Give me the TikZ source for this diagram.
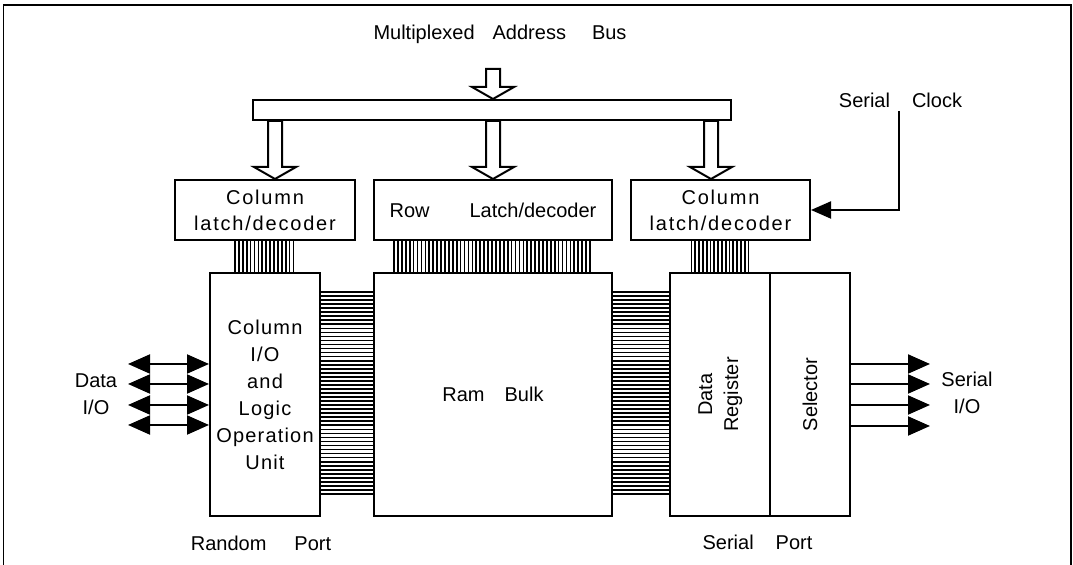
\documentclass[tikz,border=0pt]{standalone}
\usepackage{fontspec}
\setmainfont{Liberation Sans}
\newfontfamily\spacedfont[LetterSpace=9]{Liberation Sans}
\newfontfamily\unitfont[LetterSpace=6]{Liberation Sans}
\usepackage{tikz}
\usetikzlibrary{arrows.meta, positioning, calc}
\tikzset{
  vrblock/.style={rectangle, draw, line width=1pt, inner sep=0pt,
                  align=center, font=\normalsize},
  vrlatch/.style={vrblock, minimum height=30pt,
                  font={\spacedfont\fontsize{10}{13}\selectfont}},
  vrunit/.style={vrblock, minimum height=121.5pt},
  vrbus/.style={vrblock, minimum width=239pt, minimum height=10pt},
  vrfat/.style={draw, line width=1pt, fill=white, line join=miter},
  vrhatch/.style={line width=0.85pt},
  vrdata/.style={{Triangle[length=11pt,width=9.5pt]}-{Triangle[length=11pt,width=9.5pt]}, line width=1pt},
  vrserial/.style={-{Triangle[length=11pt,width=9.5pt]}, line width=1pt},
  vrclock/.style={-{Triangle[length=10pt,width=8.5pt]}, line width=1pt},
  vrlabel/.style={inner sep=0pt, align=center, font=\normalsize},
}
% hollow bus arrow pointing down
\newcommand{\fatdown}[2]{%
  \draw[vrfat] let \p1=(#1), \p2=(#2) in
    (\x1-3.5pt,\y1) -- (\x1-3.5pt,\y2+6pt) -- (\x1-10.5pt,\y2+6pt) -- (\x1,\y2)
    -- (\x1+10.5pt,\y2+6pt) -- (\x1+3.5pt,\y2+6pt) -- (\x1+3.5pt,\y1) -- cycle;}

\begin{document}
\begin{tikzpicture}[x=0.5pt, y=-0.5pt]
  \useasboundingbox (0,0) rectangle (1073,565);
  % Frame
  \draw[line width=0.8pt] (3.5,565) -- (3.5,5) -- (1071,5) -- (1071,565);
  % Address bus
  \node[vrlabel] (mabus) at (500,34) {Multiplexed\hspace{9pt}Address\hspace{13pt}Bus};
  \node[vrbus] (bus) at (492,110) {};
  \coordinate (mabtop) at (493,69);
  \fatdown{mabtop}{mabtop |- bus.north}
  % Latch/decoder blocks
  \node[vrlatch, minimum width=90pt] (colL) at (265,210) {Column\\latch/decoder};
  \node[vrblock, minimum width=119pt, minimum height=30pt] (rowL) at (493,210)
    {\raisebox{-3.5pt}{Row\hspace{20pt}Latch/decoder}};
  \node[vrlatch, minimum width=89.5pt] (colR) at (720.5,210) {Column\\latch/decoder};
  \fatdown{275,0 |- bus.south}{275,0 |- colL.north}
  \fatdown{493,0 |- bus.south}{493,0 |- rowL.north}
  \fatdown{711,0 |- bus.south}{711,0 |- colR.north}
  % Serial clock
  \node[vrlabel] (sclk) at (900.5,100) {Serial\hspace{11pt}Clock};
  \coordinate (clk) at (899,111);
  \draw[vrclock] (clk) |- (colR.east);
  % Units
  \node[vrunit, minimum width=55pt, font={\unitfont\fontsize{10}{13.5}\selectfont}] (colio) at (265,394.5)
    {Column\\I/O\\and\\Logic\\Operation\\Unit};
  \node[vrunit, minimum width=119pt] (ram) at (493,394.5)
    {\raisebox{-2.5pt}{Ram\hspace{10pt}Bulk}};
  \node[vrunit, minimum width=50pt] (datareg) at (720,394.5)
    {\rotatebox{90}{\fontsize{10}{13}\selectfont\begin{tabular}{@{}c@{}}Data\\Register\end{tabular}}};
  \node[vrunit, minimum width=40pt] (selector) at (810,394.5)
    {\rotatebox{90}{Selector}};
  % Hatched lines
  \foreach \k [evaluate=\k as \hx using 235+3.9*\k] in {0,...,15}
    \draw[vrhatch] (\hx,0 |- colL.south) -- (\hx,0 |- colio.north);
  \foreach \k [evaluate=\k as \hx using 394+3.92*\k] in {0,...,50}
    \draw[vrhatch] (\hx,0 |- rowL.south) -- (\hx,0 |- ram.north);
  \foreach \k [evaluate=\k as \hx using 691.5+3.8*\k] in {0,...,15}
    \draw[vrhatch] (\hx,0 |- colR.south) -- (\hx,0 |- datareg.north);
  \foreach \k [evaluate=\k as \hy using 292+4.04*\k] in {0,...,50}{
    \draw[vrhatch] (colio.east |- 0,\hy) -- (ram.west |- 0,\hy);
    \draw[vrhatch] (ram.east |- 0,\hy) -- (datareg.west |- 0,\hy);
  }
  % Data I/O
  \node[vrlabel, font={\fontsize{10}{13.5}\selectfont}] (dio) at (96,394) {Data\\I/O};
  \foreach \k/\yy in {1/364,2/384,3/405,4/425}{
    \coordinate (din\k) at (128,\yy);
    \draw[vrdata] (din\k) -- (din\k -| colio.west);
  }
  % Serial I/O
  \node[vrlabel, font={\fontsize{10}{13.5}\selectfont}] (sio) at (967,393) {Serial\\I/O};
  \foreach \k/\yy in {1/364,2/384,3/405,4/426}{
    \coordinate (sout\k) at (930,\yy);
    \draw[vrserial] (sout\k -| selector.east) -- (sout\k);
  }
  % Ports
  \node[vrlabel] (rport) at (261,543) {Random\hspace{14pt}Port};
  \node[vrlabel] (sport) at (757.5,542) {Serial\hspace{11pt}Port};
\end{tikzpicture}
\end{document}
